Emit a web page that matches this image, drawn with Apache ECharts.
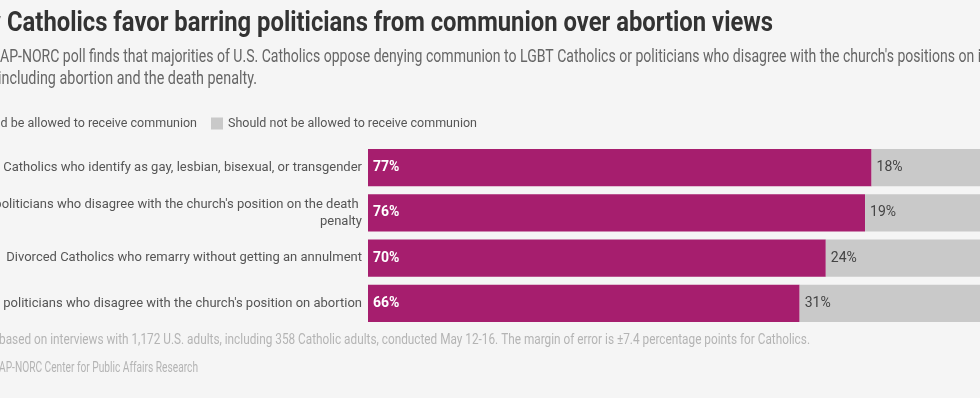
<!DOCTYPE html>
<html>
<head>
<meta charset="utf-8">
<script src="https://cdn.jsdelivr.net/npm/echarts@6/dist/echarts.min.js"></script>
<style>
  html, body { margin: 0; padding: 0; background: #f5f5f5; }
  #main { width: 980px; height: 398px; }
</style>
</head>
<body>
<div id="main"></div>
<script>
// categories, top to bottom
const categories = [
  'Catholics who identify as gay, lesbian, bisexual, or transgender',
  "Catholic politicians who disagree with the church's position on the death penalty",
  'Divorced Catholics who remarry without getting an annulment',
  "Catholic politicians who disagree with the church's position on abortion"
];
const seriesNames = ['Should be allowed to receive communion', 'Should not be allowed to receive communion'];
const allowed = [77, 76, 70, 66];
const notAllowed = [18, 19, 24, 31];

const titleText = 'Few Catholics favor barring politicians from communion over abortion views';
const subLine1 = "AP-NORC poll finds that majorities of U.S. Catholics oppose denying communion to LGBT Catholics or politicians who disagree with the church's positions on issues";
const subLine2 = 'including abortion and the death penalty.';
const noteText = 'The poll is based on interviews with 1,172 U.S. adults, including 358 Catholic adults, conducted May 12-16. The margin of error is \u00b17.4 percentage points for Catholics.';
const sourceText = 'Source: AP-NORC Center for Public Affairs Research';

const FONT = 'Roboto, "Liberation Sans", sans-serif';
const PURPLE = '#a61e6e';
const GRAY = '#c9c9c9';

// the original uses a condensed face; squeeze Roboto horizontally to fit
const ctx = document.createElement('canvas').getContext('2d');
function measure(text, font) {
  ctx.font = font;
  return ctx.measureText(text).width;
}
// text whose visible piece `part` should span [x0, x1]
function squeezed(text, part, font, x0, x1, y, color) {
  const s = (x1 - x0) / measure(part, font);
  const idx = text.indexOf(part);
  const before = measure(text.slice(0, idx), font) * s;
  return {
    type: 'text', x: x0 - before, y: y, scaleX: s, silent: true,
    style: { text: text, fill: color, font: font, align: 'left', verticalAlign: 'middle' }
  };
}

const labelFont = '13px Roboto';
const wrapWidth = Math.ceil(Math.max(
  measure("Catholic politicians who disagree with the church's position on the death", labelFont),
  measure("Catholic politicians who disagree with the church's position on abortion", labelFont)
)) + 4;

const chart = echarts.init(document.getElementById('main'));

const legendText = { color: '#555', fontSize: 12.5, fontFamily: FONT };

const option = {
  backgroundColor: '#f5f5f5',
  animation: false,
  textStyle: { fontFamily: FONT },
  legend: [
    {
      data: [seriesNames[0]],
      right: 783, top: 117, padding: 0,
      itemWidth: 12, itemHeight: 12,
      icon: 'rect',
      textStyle: legendText
    },
    {
      data: [seriesNames[1]],
      left: 211, top: 117, padding: 0,
      itemWidth: 12, itemHeight: 12,
      icon: 'rect',
      textStyle: legendText
    }
  ],
  grid: { left: 368, right: -42, top: 145, bottom: 72, outerBoundsMode: 'none' },
  xAxis: {
    type: 'value', min: 0, max: 100,
    show: false
  },
  yAxis: {
    type: 'category',
    data: categories,
    inverse: true,
    axisLine: { show: false },
    axisTick: { show: false },
    axisLabel: {
      color: '#555', fontSize: 13, fontFamily: FONT, margin: 6,
      width: wrapWidth, overflow: 'break', align: 'right', lineHeight: 17
    }
  },
  series: [
    {
      name: seriesNames[0], type: 'bar', stack: 'all',
      data: allowed, barCategoryGap: '18%',
      itemStyle: { color: PURPLE },
      label: {
        show: true, position: 'insideLeft', distance: 5,
        formatter: '{c}%', color: '#fff', fontWeight: 'bold', fontSize: 14, fontFamily: FONT
      }
    },
    {
      name: seriesNames[1], type: 'bar', stack: 'all',
      data: notAllowed,
      itemStyle: { color: GRAY },
      label: {
        show: true, position: 'insideLeft', distance: 5,
        formatter: '{c}%', color: '#444', fontSize: 14, fontFamily: FONT
      }
    }
  ],
  graphic: [
    squeezed(titleText, 'Catholics favor barring politicians from communion over abortion views',
      'bold 28px Roboto', 7, 773, 24, '#333'),
    squeezed(subLine1, "AP-NORC poll finds that majorities of U.S. Catholics oppose denying communion to LGBT Catholics or politicians who disagree with the church's positions",
      '18px Roboto', 0, 955, 57, '#666'),
    squeezed(subLine2, subLine2, '18px Roboto', -2, 257, 79, '#666'),
    squeezed(noteText, 'based on interviews with 1,172 U.S. adults, including 358 Catholic adults, conducted May 12-16. The margin of error is \u00b17.4 percentage points for Catholics.',
      '14px Roboto', -1, 810, 340, '#b4b4b4'),
    squeezed(sourceText, 'AP-NORC Center for Public Affairs Research', '14px Roboto', -1, 198, 368, '#b4b4b4')
  ]
};

chart.setOption(option);
</script>
</body>
</html>
